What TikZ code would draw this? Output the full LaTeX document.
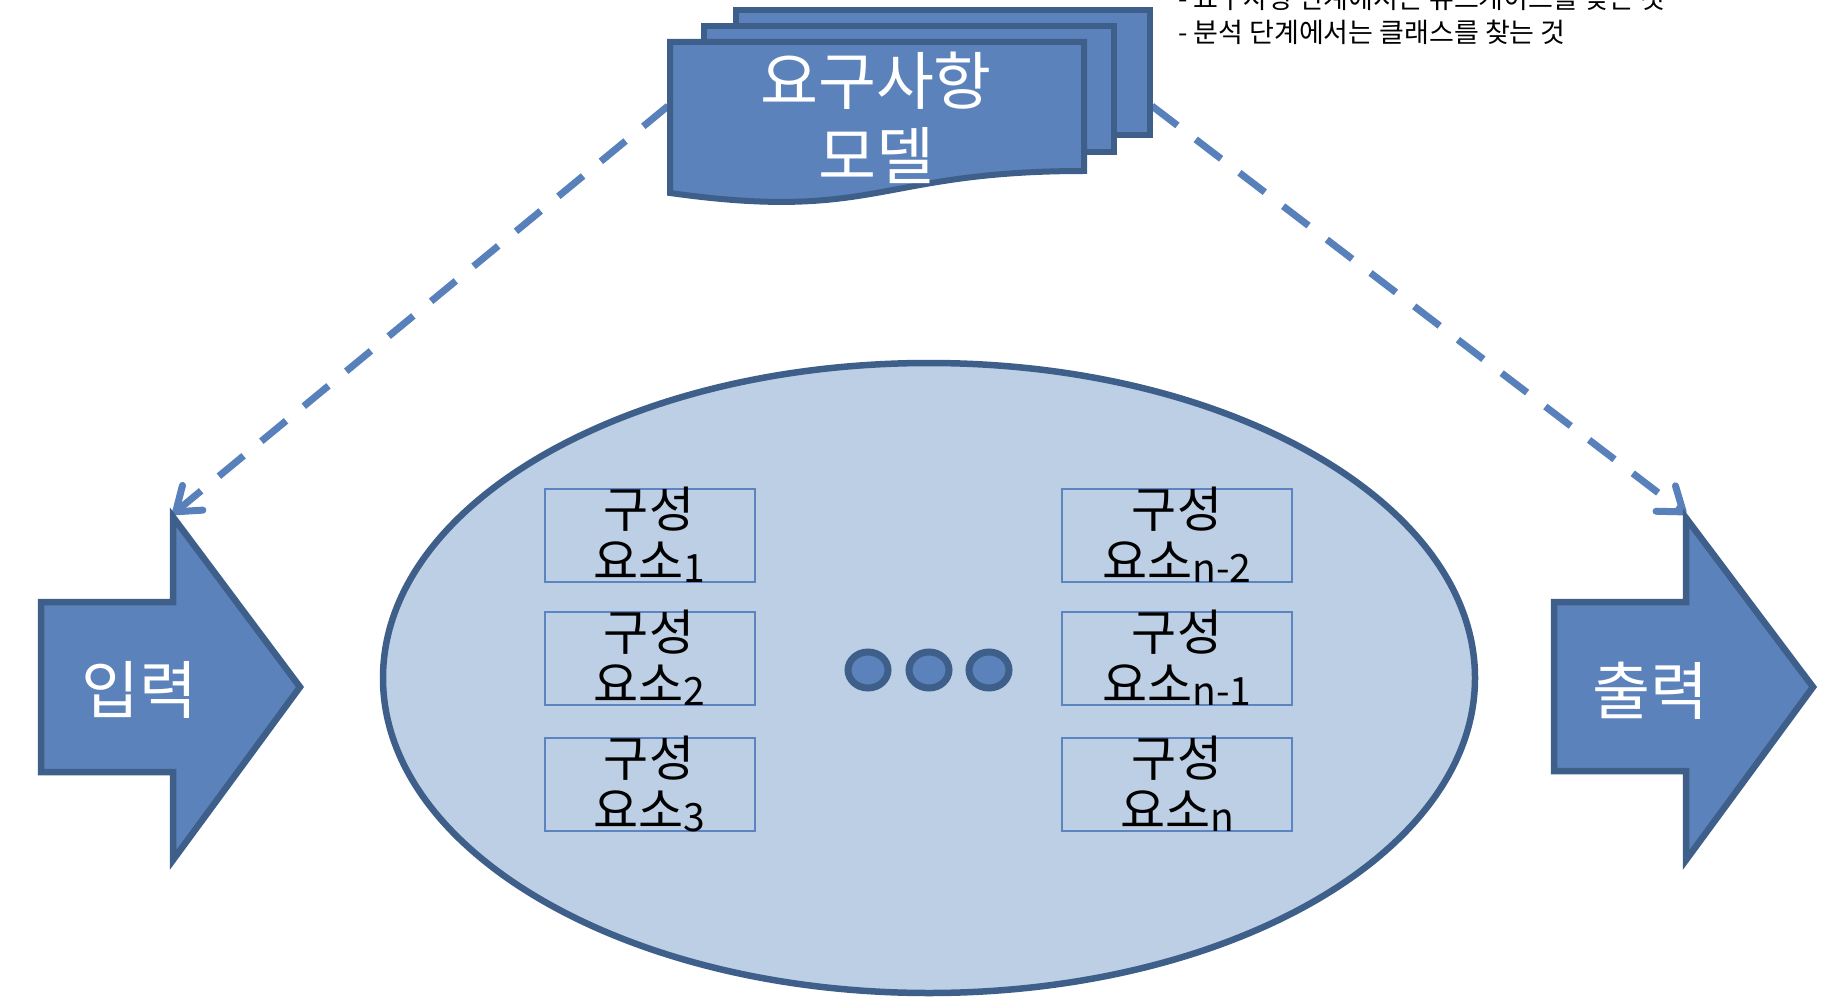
\documentclass[tikz,border=0pt]{standalone}
\usepackage{fontspec}
\setmainfont{Noto Sans CJK KR}
\usetikzlibrary{arrows.meta}
\definecolor{fillblue}{RGB}{91,130,186}
\definecolor{darkblue}{RGB}{63,95,139}
\definecolor{ellfill}{RGB}{189,207,229}
\definecolor{boxline}{RGB}{91,132,192}
\definecolor{dashblue}{RGB}{88,128,187}
\tikzset{
  bigshape/.style={fill=fillblue,draw=darkblue,line width=6.5pt,miter limit=20},
  comp/.style={draw=boxline,line width=2.5pt},
  dotshape/.style={fill=fillblue,draw=darkblue,line width=7pt},
  dasharrow/.style={draw=dashblue,line width=7pt,dash pattern=on 32pt off 23pt,
    -{Straight Barb[length=22pt,width=32pt,round]}},
  whitetxt/.style={text=white,inner sep=0pt,anchor=base,font=\fontsize{63}{74}\selectfont},
  comptxt/.style={text=black,inner sep=0pt,anchor=base,font=\fontsize{49}{58}\selectfont},
  notetxt/.style={text=black,inner sep=0pt,anchor=base west,font=\fontsize{27}{32}\selectfont},
}
\newcommand{\subn}[1]{\raisebox{-3pt}{\fontsize{39}{40}\selectfont #1}}
\begin{document}
\begin{tikzpicture}[x=1pt,y=-1pt]
\useasboundingbox (0,0) rectangle (1841,1000);
% coordinates
\coordinate (docL) at (668,106);
\coordinate (docR) at (1152,106);
\coordinate (inTop) at (173,514);
\coordinate (outTop) at (1686,514);
% dashed arrows
\draw[dasharrow] (docL) -- (inTop);
\draw[dasharrow] (docR) -- (outTop);
% ellipse
\draw[fill=ellfill,draw=darkblue,line width=6.5pt] (929,678) ellipse [x radius=546,y radius=315];
% component boxes
\foreach \dy [count=\i] in {0,123,249}{
  \draw[comp] (545,489+\dy) rectangle (755,582+\dy);
  \draw[comp] (1062,489+\dy) rectangle (1292,582+\dy);
}
\node[comptxt] (c1a) at (649,527) {구성};
\node[comptxt] (c1b) at (649,579) {요소\subn{1}};
\node[comptxt] (c2a) at (649,650) {구성};
\node[comptxt] (c2b) at (649,702) {요소\subn{2}};
\node[comptxt] (c3a) at (649,776) {구성};
\node[comptxt] (c3b) at (649,828) {요소\subn{3}};
\node[comptxt] (c4a) at (1177,527) {구성};
\node[comptxt] (c4b) at (1177,579) {요소\subn{n-2}};
\node[comptxt] (c5a) at (1177,650) {구성};
\node[comptxt] (c5b) at (1177,702) {요소\subn{n-1}};
\node[comptxt] (c6a) at (1177,776) {구성};
\node[comptxt] (c6b) at (1177,828) {요소\subn{n}};
% dots
\draw[dotshape] (868,670) ellipse [x radius=20,y radius=18];
\draw[dotshape] (929,670) ellipse [x radius=20,y radius=18];
\draw[dotshape] (989,670) ellipse [x radius=20,y radius=18];
% input arrow
\draw[bigshape] (41,602) -- (173,602) -- (173,517) -- (300,687) -- (173,860) -- (173,772) -- (41,772) -- cycle;
\node[whitetxt] (inp) at (139,713) {입력};
% output arrow
\draw[bigshape] (1554,602) -- (1686,602) -- (1686,518) -- (1813,687) -- (1686,860) -- (1686,771) -- (1554,771) -- cycle;
\node[whitetxt] (outp) at (1650,714) {출력};
% multi document
\draw[bigshape,line width=6pt] (736,10) rectangle (1150,135);
\draw[bigshape,line width=6pt] (704,26) rectangle (1114,152);
\draw[bigshape,line width=6pt] (670,42) -- (1084,42) -- (1084,171)
   .. controls (877,171) and (877,222) .. (670,193) -- cycle;
\node[whitetxt] (req1) at (876,105) {요구사항};
\node[whitetxt] (req2) at (876,180) {모델};
% note text
\node[notetxt] (note1) at (1178,9) {- 요구사항 단계에서는 유스케이스를 찾는 것};
\node[notetxt] (note2) at (1178,43) {- 분석 단계에서는 클래스를 찾는 것};
\end{tikzpicture}
\end{document}
